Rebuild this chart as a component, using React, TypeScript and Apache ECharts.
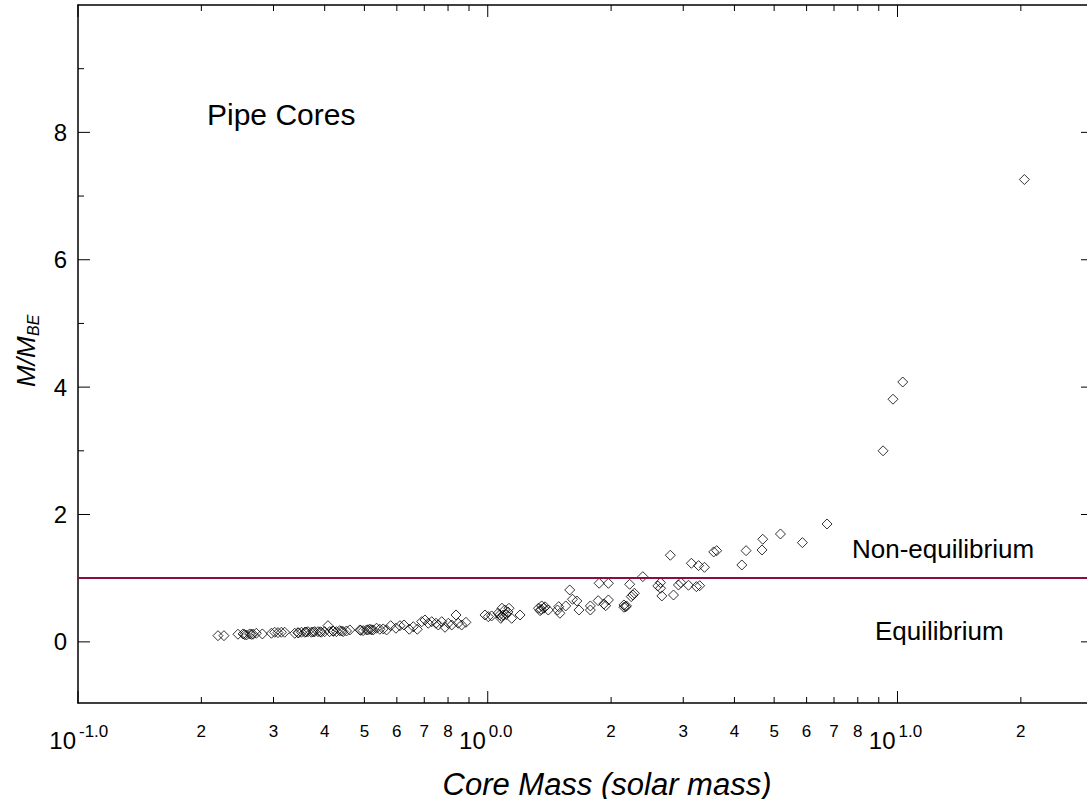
import React, { useEffect, useRef } from 'react';
import * as echarts from 'echarts';

// Core mass (solar mass) and M/M_BE for each pipe core
const coreMass = [
  0.2196, 0.2271,
  0.2457, 0.2529, 0.255, 0.2577, 0.2624, 0.265, 0.2673, 0.2724,
  0.2818,
  0.2965, 0.302, 0.3077, 0.3136, 0.3194,
  0.338, 0.3443, 0.345, 0.351, 0.3576, 0.36, 0.3641, 0.3711, 0.375, 0.3781, 0.3852, 0.39, 0.3926, 0.3999,
  0.4074,
  0.4114, 0.4191, 0.42, 0.4272, 0.4352, 0.44, 0.4436, 0.4521, 0.4606,
  0.4874, 0.49, 0.4965, 0.5061, 0.51, 0.5156, 0.52, 0.5253, 0.5354, 0.5454, 0.5557, 0.5664,
  0.5794,
  0.5969, 0.6105, 0.6245, 0.6434, 0.6581, 0.6731,
  0.6899, 0.7028, 0.7159, 0.7297, 0.7476, 0.7575, 0.7721,
  0.7864, 0.8012, 0.8167, 0.8366, 0.8472, 0.8635, 0.8846,
  0.9845, 1.003, 1.022,
  1.06, 1.069, 1.076, 1.08, 1.083, 1.091, 1.1, 1.11, 1.12, 1.127, 1.144, 1.199,
  1.33, 1.342, 1.35, 1.354, 1.37, 1.38, 1.405,
  1.48, 1.49, 1.5, 1.55,
  1.585, 1.61, 1.65, 1.67, 1.78, 1.78,
  1.86, 1.87, 1.92, 1.94, 1.97, 1.97,
  2.15, 2.15, 2.17, 2.18, 2.22, 2.24, 2.26, 2.28,
  2.39,
  2.6, 2.64, 2.64, 2.66, 2.79, 2.84, 2.92, 2.96,
  3.09, 3.14, 3.23, 3.27, 3.29, 3.38,
  3.56, 3.62,
  4.17, 4.27, 4.67, 4.69, 5.18, 5.86, 6.73,
  9.22, 9.75, 10.3, 20.4,
];
const massRatio = [
  0.097, 0.097,
  0.12, 0.124, 0.115, 0.108, 0.124, 0.118, 0.12, 0.135,
  0.124,
  0.135, 0.151, 0.145, 0.151, 0.151,
  0.135, 0.145, 0.14, 0.151, 0.151, 0.155, 0.16, 0.151, 0.155, 0.16, 0.16, 0.158, 0.151, 0.16,
  0.254,
  0.16, 0.171, 0.165, 0.16, 0.176, 0.17, 0.16, 0.171, 0.187,
  0.187, 0.18, 0.176, 0.187, 0.19, 0.198, 0.19, 0.187, 0.214, 0.198, 0.203, 0.187,
  0.254,
  0.214, 0.254, 0.265, 0.198, 0.238, 0.198,
  0.317, 0.344, 0.292, 0.317, 0.292, 0.265, 0.317,
  0.229, 0.292, 0.265, 0.422, 0.292, 0.265, 0.307,
  0.422, 0.396, 0.407,
  0.45, 0.422, 0.37, 0.4, 0.528, 0.422, 0.5, 0.43, 0.47, 0.528, 0.37, 0.422,
  0.528, 0.49, 0.51, 0.564, 0.528, 0.55, 0.5,
  0.5, 0.553, 0.449, 0.564,
  0.815, 0.669, 0.642, 0.501, 0.564, 0.5,
  0.647, 0.92, 0.595, 0.568, 0.92, 0.658,
  0.543, 0.58, 0.55, 0.564, 0.904, 0.71, 0.736, 0.763,
  1.024,
  0.878, 0.93, 0.842, 0.721, 1.36, 0.736, 0.893, 0.93,
  0.889, 1.234, 0.867, 1.197, 0.882, 1.171,
  1.412, 1.432,
  1.207, 1.432, 1.443, 1.611, 1.694, 1.558, 1.851,
  3.0, 3.81, 4.08, 7.26,
];

const xMajorTicks = [0.1, 1, 10];
const xMajorExponents = ['-1.0', '0.0', '1.0'];
const xMinorTicks = [0.2, 0.3, 0.4, 0.5, 0.6, 0.7, 0.8, 0.9, 2, 3, 4, 5, 6, 7, 8, 9, 20];
const xMinorLabels = ['2', '3', '4', '5', '6', '7', '8', '', '2', '3', '4', '5', '6', '7', '8', '', '2'];
const yMajorTicks = [0, 2, 4, 6, 8];
const yMinorTicks = [1, 3, 5, 7, 9];
const equilibriumLevel = 1;

const X_MIN = 0.1;
const X_MAX = 30;
const Y_MIN = -0.96;
const Y_MAX = 10;
const FONT = '"Liberation Sans", Arial, Helvetica, sans-serif';

function renderXTick(_params: any, api: any) {
  const v = api.value(0);
  const major = api.value(2) === 1;
  const idx = api.value(3);
  const b = api.coord([v, Y_MIN]);
  const t = api.coord([v, Y_MAX]);
  const len = major ? 12 : 6;
  const ls = { stroke: '#000', lineWidth: 1 };
  const children: any[] = [
    { type: 'line', shape: { x1: b[0], y1: b[1], x2: b[0], y2: b[1] - len }, style: ls },
    { type: 'line', shape: { x1: t[0], y1: t[1], x2: t[0], y2: t[1] + len }, style: ls },
  ];
  if (major) {
    children.push({
      type: 'text', x: b[0] - 2, y: b[1] + 37.6,
      style: { text: '10', font: `24px ${FONT}`, fill: '#000', align: 'right', verticalAlign: 'middle' },
    });
    children.push({
      type: 'text', x: b[0] + 1, y: b[1] + 28,
      style: { text: xMajorExponents[idx], font: `17px ${FONT}`, fill: '#000', align: 'left', verticalAlign: 'middle' },
    });
  } else if (xMinorLabels[idx]) {
    children.push({
      type: 'text', x: b[0], y: b[1] + 28,
      style: { text: xMinorLabels[idx], font: `17px ${FONT}`, fill: '#000', align: 'center', verticalAlign: 'middle' },
    });
  }
  return { type: 'group', children };
}

function renderYTick(_params: any, api: any) {
  const v = api.value(1);
  const major = api.value(2) === 1;
  const idx = api.value(3);
  const l = api.coord([X_MIN, v]);
  const r = api.coord([X_MAX, v]);
  const len = major ? 12 : 6;
  const ls = { stroke: '#000', lineWidth: 1 };
  const children: any[] = [
    { type: 'line', shape: { x1: l[0], y1: l[1], x2: l[0] + len, y2: l[1] }, style: ls },
    { type: 'line', shape: { x1: r[0], y1: r[1], x2: r[0] - len, y2: r[1] }, style: ls },
  ];
  if (major) {
    children.push({
      type: 'text', x: l[0] - 11, y: l[1],
      style: { text: String(yMajorTicks[idx]), font: `24px ${FONT}`, fill: '#000', align: 'right', verticalAlign: 'middle' },
    });
  }
  return { type: 'group', children };
}

export default function App() {
  const ref = useRef<HTMLDivElement>(null);
  useEffect(() => {
    document.body.style.margin = '0';
    if (!ref.current) return;
    const chart = echarts.init(ref.current, undefined, { renderer: 'svg' });
    const points = coreMass.map((m, i) => [m, massRatio[i]]);
    const xTickData = [
      ...xMajorTicks.map((v, i) => [v, Y_MIN, 1, i]),
      ...xMinorTicks.map((v, i) => [v, Y_MIN, 0, i]),
    ];
    const yTickData = [
      ...yMajorTicks.map((v, i) => [X_MIN, v, 1, i]),
      ...yMinorTicks.map((v, i) => [X_MIN, v, 0, i]),
    ];
    const axisLine = { show: true, onZero: false, lineStyle: { color: '#000', width: 1.5 } };
    const logAxis = (position: string) => ({
      type: 'log', logBase: 10, min: X_MIN, max: X_MAX, position,
      axisLine, axisTick: { show: false }, axisLabel: { show: false },
      splitLine: { show: false }, minorTick: { show: false },
    });
    chart.setOption({
      animation: false,
      backgroundColor: '#ffffff',
      grid: { left: 78, top: 5, width: 1015, height: 698, containLabel: false, outerBoundsMode: 'none' },
      xAxis: [logAxis('bottom'), logAxis('top')],
      yAxis: {
        type: 'value', min: Y_MIN, max: Y_MAX,
        axisLine, axisTick: { show: false }, axisLabel: { show: false }, splitLine: { show: false },
      },
      series: [
        {
          type: 'scatter', data: points, symbol: 'diamond', symbolSize: 10,
          itemStyle: { color: 'rgba(0,0,0,0)', borderColor: '#000', borderWidth: 1 },
          silent: true, z: 3,
          markLine: {
            silent: true, symbol: ['none', 'none'], label: { show: false },
            lineStyle: { color: '#8c0d42', width: 2, type: 'solid' },
            data: [{ yAxis: equilibriumLevel }],
          },
        },
        { type: 'custom', data: xTickData, renderItem: renderXTick, silent: true, clip: false, z: 4 },
        { type: 'custom', data: yTickData, renderItem: renderYTick, silent: true, clip: false, z: 4 },
      ],
      graphic: [
        {
          type: 'text', left: undefined, x: 207, y: 114.5,
          style: { text: 'Pipe Cores', font: `30px ${FONT}`, fill: '#000', align: 'left', verticalAlign: 'middle' },
        },
        {
          type: 'text', x: 852, y: 549,
          style: { text: 'Non-equilibrium', font: `26px ${FONT}`, fill: '#000', align: 'left', verticalAlign: 'middle' },
        },
        {
          type: 'text', x: 875, y: 631,
          style: { text: 'Equilibrium', font: `26px ${FONT}`, fill: '#000', align: 'left', verticalAlign: 'middle' },
        },
        {
          type: 'text', x: 607, y: 784,
          style: { text: 'Core Mass (solar mass)', font: `italic 31px ${FONT}`, fill: '#000', align: 'center', verticalAlign: 'middle' },
        },
        {
          type: 'group', x: 26, y: 351, rotation: Math.PI / 2,
          children: [
            {
              type: 'text', x: -36, y: 0,
              style: { text: 'M/M', font: `italic 26px ${FONT}`, fill: '#000', align: 'left', verticalAlign: 'middle' },
            },
            {
              type: 'text', x: 15, y: 7,
              style: { text: 'BE', font: `italic 16px ${FONT}`, fill: '#000', align: 'left', verticalAlign: 'middle' },
            },
          ],
        },
      ],
    } as any);
    return () => chart.dispose();
  }, []);
  return <div ref={ref} style={{ width: 1087, height: 799 }} />;
}
